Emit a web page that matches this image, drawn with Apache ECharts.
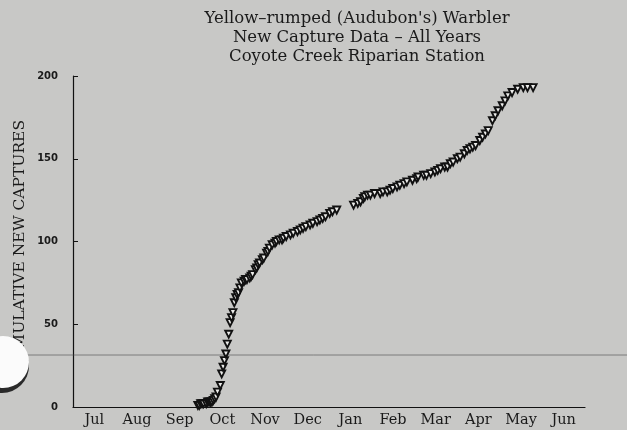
<!DOCTYPE html>
<html>
<head>
<meta charset="utf-8">
<script src="https://cdn.jsdelivr.net/npm/echarts@6/dist/echarts.min.js"></script>
<style>
  html, body { margin: 0; padding: 0; background: #c8c8c6; }
  #chart { width: 627px; height: 430px; }
</style>
</head>
<body>
<div id="chart"></div>
<script>
// month labels, axis runs Jul -> Jun
var months = ['Jul', 'Aug', 'Sep', 'Oct', 'Nov', 'Dec', 'Jan', 'Feb', 'Mar', 'Apr', 'May', 'Jun'];

// day of season (days after Jul 1) and cumulative new captures
var days = [89, 90, 91, 92, 93, 95, 96, 97, 98, 99, 100, 101, 102, 103, 105, 106, 107, 108, 109, 110, 111,
  112, 113, 114, 115, 116, 117, 118, 119, 120, 122, 123, 124, 126, 127, 128, 130, 131, 132, 133, 135, 136,
  138, 139, 140, 142, 144, 145, 147, 149, 150, 152, 155, 157, 160, 162, 164, 166, 169, 171, 174, 176, 178,
  180, 183, 185, 188,
  200, 203, 205, 207, 208, 210, 212, 215, 219, 221, 224, 226, 228, 231, 233, 236, 238, 242, 245, 246, 250,
  252, 255, 258, 260, 262, 265, 267, 269, 271, 274, 276, 279, 281, 283, 285, 287, 290, 292, 294, 296,
  299, 301, 303, 306, 308, 310, 313, 317, 321, 324, 328];
var captures = [1, 1, 2, 2, 2, 2, 3, 3, 3, 3, 4, 5, 6, 9, 13, 20, 24, 28, 32, 38, 44,
  51, 54, 57, 63, 66, 68, 69, 72, 75, 76, 77, 77, 78, 79, 80, 83, 84, 86, 87, 89, 90,
  93, 94, 96, 98, 99, 100, 101, 101, 102, 103, 104, 105, 106, 107, 108, 109, 110, 111, 112, 113, 114,
  115, 117, 118, 119,
  122, 123, 124, 126, 127, 128, 128, 129, 129, 130, 130, 131, 132, 133, 134, 135, 136, 137, 138, 139, 140,
  140, 141, 142, 143, 144, 145, 145, 147, 148, 150, 151, 153, 155, 156, 157, 158, 161, 163, 165, 167,
  173, 176, 179, 182, 185, 188, 190, 192, 193, 193, 193];

var points = days.map(function (d, i) { return [d, captures[i]]; });

var serif = '"DejaVu Serif", "Liberation Serif", serif';

var chart = echarts.init(document.getElementById('chart'));
chart.setOption({
  backgroundColor: '#c8c8c6',
  animation: false,
  title: {
    text: "Yellow\u2013rumped (Audubon's) Warbler\nNew Capture Data \u2013 All Years\nCoyote Creek Riparian Station",
    left: 352,
    top: 4,
    textAlign: 'center',
    textStyle: { fontFamily: serif, fontSize: 16.5, fontWeight: 'normal', color: '#1a1a1a', lineHeight: 19 }
  },
  grid: { left: 73, right: 42, top: 76, bottom: 23 },
  xAxis: [{
    type: 'category',
    data: months,
    boundaryGap: true,
    axisLine: { lineStyle: { color: '#111', width: 1.2 } },
    axisTick: { inside: true, length: 5, lineStyle: { color: '#111' } },
    axisLabel: { fontFamily: serif, fontSize: 14.5, color: '#1a1a1a', margin: 6 }
  }, {
    type: 'value',
    min: 0,
    max: 365,
    show: false
  }],
  yAxis: {
    type: 'value',
    min: 0,
    max: 200,
    interval: 50,
    axisLine: { show: true, lineStyle: { color: '#111', width: 1.2 } },
    axisTick: { show: true, inside: true, length: 5, lineStyle: { color: '#111' } },
    axisLabel: { fontFamily: '"DejaVu Sans", sans-serif', fontWeight: 'bold', fontSize: 10, color: '#1a1a1a', margin: 15 },
    splitLine: { show: false }
  },
  graphic: [
    // y axis title, partly hidden by the punch hole like the scan
    {
      type: 'text', left: 12, top: 120, rotation: Math.PI / 2, z: 1,
      style: { text: 'CUMULATIVE NEW CAPTURES', font: '15.5px "DejaVu Serif", serif', fill: '#1a1a1a' }
    },
    // scanner crease
    { type: 'line', shape: { x1: 0, y1: 355, x2: 627, y2: 355 }, style: { stroke: '#4a4a4a', lineWidth: 1, opacity: 0.6 }, z: 2 },
    // punch hole
    { type: 'circle', shape: { cx: 2, cy: 366, r: 27 }, style: { fill: '#2a2a2a' }, z: 3 },
    { type: 'circle', shape: { cx: 3, cy: 362, r: 26 }, style: { fill: '#fbfbfb' }, z: 4 }
  ],
  series: [{
    type: 'scatter',
    xAxisIndex: 1,
    data: points,
    symbol: 'triangle',
    symbolRotate: 180,
    symbolSize: 7,
    z: 5,
    itemStyle: { color: '#ececea', borderColor: '#111', borderWidth: 1.9, opacity: 1 }
  }]
});
</script>
</body>
</html>
